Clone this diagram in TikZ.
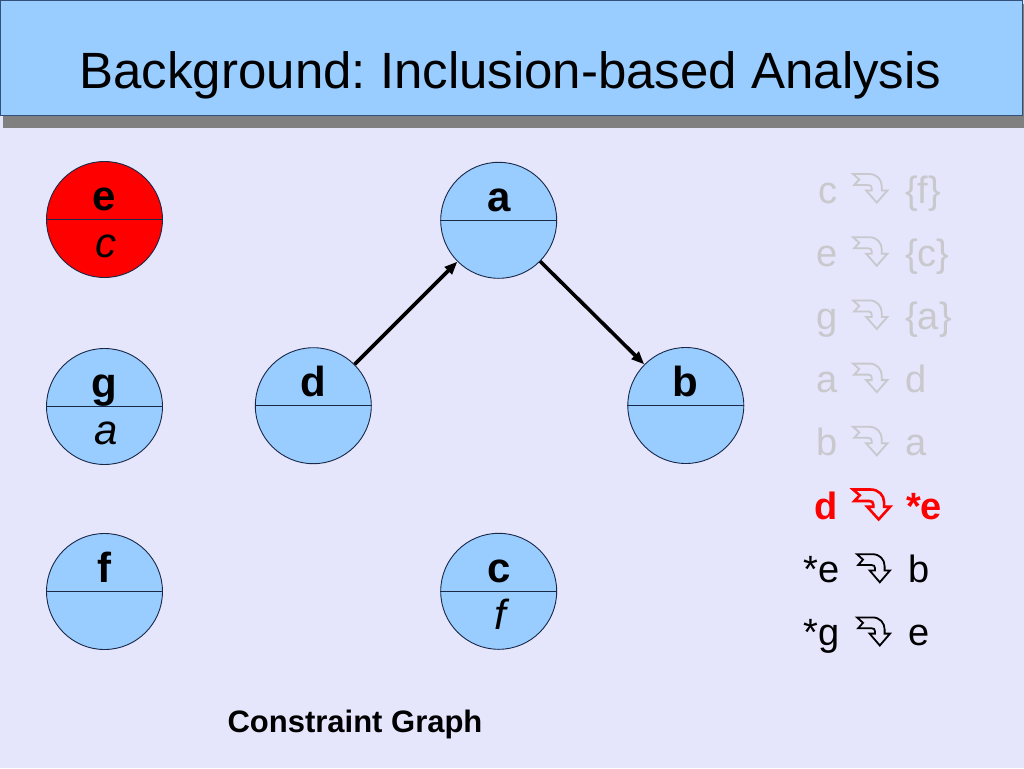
\documentclass[tikz,border=0pt]{standalone}
\usepackage{fontspec}
\setmainfont{Liberation Sans}
\usetikzlibrary{arrows.meta}
\definecolor{bgc}{RGB}{229,229,252}
\definecolor{titlefill}{RGB}{153,204,255}
\definecolor{titleborder}{RGB}{50,80,120}
\definecolor{shadowc}{RGB}{128,128,128}
\definecolor{nodefill}{RGB}{153,204,255}
\definecolor{nodeborder}{RGB}{25,40,70}
\definecolor{dimtext}{RGB}{200,200,205}
\definecolor{hotred}{RGB}{255,0,0}
\frenchspacing
\begin{document}
\begin{tikzpicture}[x=1pt,y=-1pt,
  vnode/.style={circle,draw=nodeborder,fill=nodefill,line width=0.9pt,minimum size=116pt,inner sep=0pt},
  hotnode/.style={vnode,fill=hotred},
  divider/.style={draw=nodeborder,line width=0.9pt},
  toplab/.style={anchor=base,inner sep=0pt,font=\fontsize{42}{42}\selectfont\bfseries},
  botlab/.style={anchor=base,inner sep=0pt,font=\fontsize{42}{42}\selectfont\itshape},
  edge/.style={line width=3.6pt,-{Triangle[length=13pt,width=10pt]}},
  lhs/.style={anchor=base east,inner sep=0pt,font=\fontsize{38}{38}\selectfont},
  rhs/.style={anchor=base west,inner sep=0pt,font=\fontsize{38}{38}\selectfont},
  incl/.pic={\draw[line width=1.8pt,line join=miter,#1] (0,0) -- (13,0)
      .. controls (19,0) and (23,5) .. (23,11) -- (23,15) -- (27.5,15) -- (19,26) -- (10.5,15) -- (15,15) -- (15,13)
      .. controls (15,11) and (14,10) .. (12,10) -- (1,10) -- (5,5) -- cycle;}
]
\useasboundingbox (0,0) rectangle (1024,768);
\fill[bgc] (0,0) rectangle (1024,768);
% title bar
\fill[shadowc] (3,4) rectangle (1024,127.5);
\draw[titleborder,fill=titlefill,line width=1pt] (0.5,0.5) rectangle (1022,115);
\node[anchor=base,inner sep=0pt,font=\fontsize{51}{51}\selectfont] (title) at (510.5,88.3) {Background: Inclusion-based Analysis};

% graph nodes
\node[hotnode] (e) at (104.5,219.5) {};
\node[vnode] (g) at (104.5,406.5) {};
\node[vnode] (f) at (104.5,591.5) {};
\node[vnode] (d) at (313.3,405.7) {};
\node[vnode] (a) at (498.7,220.3) {};
\node[vnode] (b) at (685.8,405.5) {};
\node[vnode] (c) at (498.7,591.3) {};
\foreach \n in {e,g,f,d,a,b,c} {\draw[divider] (\n.west) -- (\n.east);}

\node[toplab] (eT) at (104.5,210.5) {e};
\node[botlab] (eB) at (106,257.5) {c};
\node[toplab] (gT) at (104.5,397.5) {g};
\node[botlab] (gB) at (106,444.5) {a};
\node[toplab] (fT) at (104.5,582.5) {f};
\node[toplab] (dT) at (313.3,396.7) {d};
\node[toplab] (aT) at (498.7,211.3) {a};
\node[toplab] (bT) at (685.8,396.5) {b};
\node[toplab] (cT) at (498.7,582.3) {c};
\node[botlab] (cB) at (500,629.3) {f};

\draw[edge] (d) -- (a);
\draw[edge] (a) -- (b);

\node[anchor=base,inner sep=0pt,font=\fontsize{31}{31}\selectfont\bfseries] (cg) at (355,732.7) {Constraint Graph};

% constraint list
\node[lhs,dimtext] (l1) at (838,203) {c};
\pic[xscale=1.25,yscale=1.1] at (853,174) {incl=dimtext};
\node[rhs,dimtext] (r1) at (905,203) {\{f\}};
\node[lhs,dimtext] (l2) at (838,266.2) {e};
\pic[xscale=1.25,yscale=1.1] at (853,237.2) {incl=dimtext};
\node[rhs,dimtext] (r2) at (905,266.2) {\{c\}};
\node[lhs,dimtext] (l3) at (838,329.4) {g};
\pic[xscale=1.25,yscale=1.1] at (853,300.4) {incl=dimtext};
\node[rhs,dimtext] (r3) at (905,329.4) {\{a\}};
\node[lhs,dimtext] (l4) at (838,392.6) {a};
\pic[xscale=1.25,yscale=1.1] at (853,363.6) {incl=dimtext};
\node[rhs,dimtext] (r4) at (905,392.6) {d};
\node[lhs,dimtext] (l5) at (838,455.8) {b};
\pic[xscale=1.25,yscale=1.1] at (853,426.8) {incl=dimtext};
\node[rhs,dimtext] (r5) at (905,455.8) {a};
\node[lhs,hotred,font=\fontsize{38}{38}\selectfont\bfseries] (l6) at (838,519) {d};
\pic[xscale=1.35,yscale=1.15] at (853,489.5) {incl={hotred,line width=2.6pt}};
\node[rhs,hotred,font=\fontsize{38}{38}\selectfont\bfseries] (r6) at (906,519) {*e};
\node[lhs] (l7) at (840,582.2) {*e};
\pic[xscale=1.2,yscale=1.08] at (857,554.2) {incl=black};
\node[rhs] (r7) at (908,582.2) {b};
\node[lhs] (l8) at (840,645.4) {*g};
\pic[xscale=1.2,yscale=1.08] at (857,617.4) {incl=black};
\node[rhs] (r8) at (908,645.4) {e};
\end{tikzpicture}
\end{document}
